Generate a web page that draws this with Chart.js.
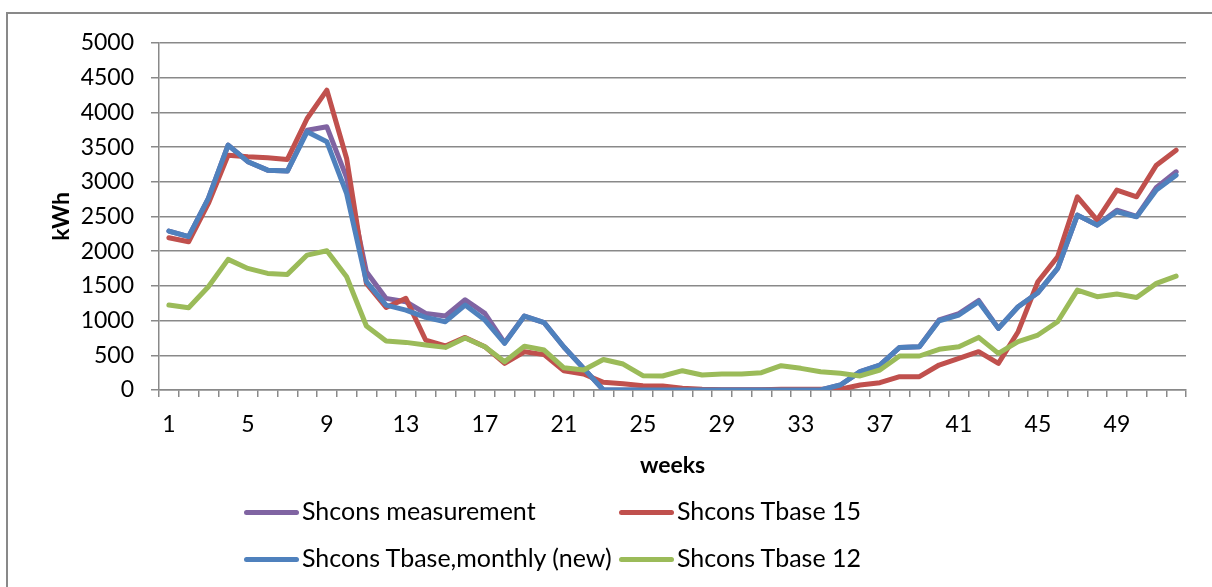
<!DOCTYPE html>
<html><head><meta charset="utf-8">
<script src="https://cdn.jsdelivr.net/npm/chart.js@4.4.0/dist/chart.umd.min.js"></script>
<style>
html,body{margin:0;padding:0;background:#fff;overflow:hidden;}
#wrap{position:relative;width:1212px;height:587px;overflow:hidden;background:#fff;}
#frame{position:absolute;left:6px;top:12px;width:1400px;height:800px;border-left:2px solid #898989;border-top:2px solid #898989;}
canvas{position:absolute;left:0;top:0;}
.legtxt{position:absolute;font-family:Lato,sans-serif;font-size:25px;color:#000;white-space:nowrap;line-height:25px;}
.sw{position:absolute;height:5px;border-radius:3px;}
</style></head>
<body><div id="wrap"><div id="frame"></div><canvas id="c" width="1212" height="587"></canvas><div id="legend"></div></div>
<script>
const weeks = ['1','2','3','4','5','6','7','8','9','10','11','12','13','14','15','16','17','18','19','20','21','22','23','24','25','26','27','28','29','30','31','32','33','34','35','36','37','38','39','40','41','42','43','44','45','46','47','48','49','50','51','52'];
const shownWeekLabels = ['1','5','9','13','17','21','25','29','33','37','41','45','49'];
const seriesNames = ['Shcons measurement','Shcons Tbase 15','Shcons Tbase,monthly (new)','Shcons Tbase 12'];
const measurement = [2290,2210,2760,3528,3290,3168,3154,3744,3792,3060,1704,1320,1272,1104,1066,1300,1104,680,1066,970,620,312,0,0,0,0,0,0,0,0,0,0,0,0,72,264,360,614,624,1010,1100,1290,888,1200,1402,1752,2520,2376,2590,2500,2918,3144];
const tbase15 = [2194,2136,2688,3384,3360,3346,3322,3912,4320,3336,1536,1190,1320,720,634,758,624,384,550,510,278,230,110,90,62,58,24,10,5,5,5,10,10,10,10,72,106,192,192,360,456,552,384,840,1560,1920,2784,2448,2880,2784,3240,3456];
const tbaseMonthly = [2290,2210,2760,3528,3290,3168,3154,3720,3576,2830,1560,1224,1152,1046,984,1224,1008,672,1066,970,620,312,0,0,0,0,0,0,0,0,0,0,0,0,72,264,360,614,624,998,1080,1272,888,1200,1402,1752,2520,2376,2568,2496,2880,3096];
const tbase12 = [1224,1186,1488,1882,1752,1680,1666,1944,2006,1632,922,706,686,648,614,750,624,408,630,576,320,288,440,374,206,202,278,216,230,230,250,350,312,264,240,202,288,490,490,586,624,758,528,696,792,984,1440,1344,1382,1334,1536,1642];
const yTicks = [0,500,1000,1500,2000,2500,3000,3500,4000,4500,5000];

const colors = ['#8064A2','#C0504D','#4F81BD','#9BBB59'];
const seriesData = [measurement, tbase15, tbaseMonthly, tbase12];
const GRID = '#898989';

const datasets = seriesData.map((d,i)=>({
  label: seriesNames[i], data: d, borderColor: colors[i], backgroundColor: colors[i],
  borderWidth: 5, pointRadius: 0, tension: 0, fill: false,
  borderJoinStyle: 'round', borderCapStyle: 'round', order: 4 - i
}));

new Chart(document.getElementById('c'), {
  type: 'line',
  data: { labels: weeks, datasets },
  options: {
    responsive: false, animation: false,
    layout: { padding: { left: 0, right: 26, top: 43, bottom: 97 } },
    plugins: { legend: { display: false }, tooltip: { enabled: false } },
    scales: {
      x: {
        type: 'category', offset: true,
        grid: { display: true, drawOnChartArea: false, drawTicks: true, tickLength: 7, offset: true, color: GRID, lineWidth: 1.5 },
        border: { display: true, color: GRID, width: 1.5 },
        ticks: { autoSkip: false, maxRotation: 0, minRotation: 0, padding: 14, color: '#000',
          font: { family: 'Lato', size: 23 },
          callback: function(v, i){ const l = weeks[i]; return shownWeekLabels.includes(l) ? l : ''; } },
        title: { display: true, text: 'weeks', color: '#000', font: { family: 'Lato', size: 23, weight: 'bold' }, padding: { top: 0, bottom: 11 } },
        afterFit: (s) => { s.height = 100; }
      },
      y: {
        min: 0, max: 5000,
        afterBuildTicks: (s) => { s.ticks = yTicks.map(v => ({ value: v })); },
        grid: { color: GRID, lineWidth: 1.5, drawTicks: true, tickLength: 8 },
        border: { display: true, color: GRID, width: 1.5 },
        ticks: { padding: 17, color: '#000', font: { family: 'Lato', size: 23 },
          callback: (v) => String(v) },
        title: { display: true, text: 'kWh', color: '#000', font: { family: 'Lato', size: 23, weight: 'bold' }, padding: { top: 48, bottom: 0 } },
        afterFit: (s) => { s.width = 159; }
      }
    }
  }
});

// Legend (2 x 2 grid, as in the original)
const legendCols = [244, 619];
const legendRows = [512, 559];
const legend = document.getElementById('legend');
seriesNames.forEach((name, i) => {
  const cx = legendCols[i % 2], cy = legendRows[Math.floor(i / 2)];
  const sw = document.createElement('div');
  sw.className = 'sw';
  sw.style.left = cx + 'px'; sw.style.top = (cy - 2.5) + 'px'; sw.style.width = '55px';
  sw.style.background = colors[i];
  legend.appendChild(sw);
  const t = document.createElement('div');
  t.className = 'legtxt';
  t.style.left = (cx + 58) + 'px'; t.style.top = (cy - 14) + 'px';
  t.textContent = name;
  legend.appendChild(t);
});
</script>
</body></html>
